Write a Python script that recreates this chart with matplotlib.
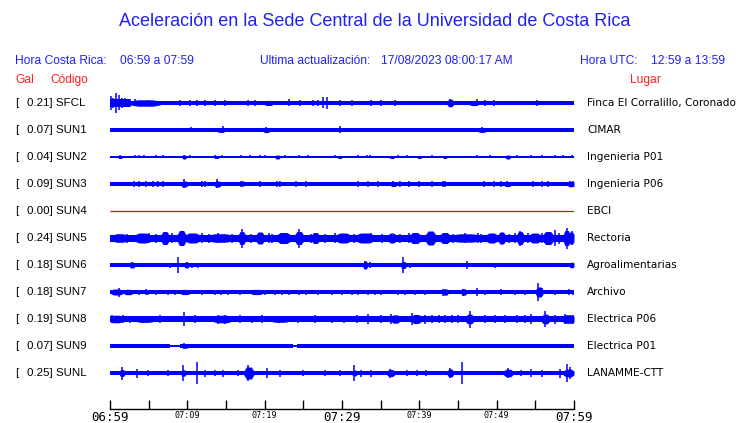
import matplotlib
matplotlib.use("Agg")
import matplotlib.pyplot as plt

# ---------------- data ----------------
STATIONS = ["SFCL", "SUN1", "SUN2", "SUN3", "SUN4", "SUN5", "SUN6", "SUN7", "SUN8", "SUN9", "SUNL"]
PEAK_GAL = ["0.21", "0.07", "0.04", "0.09", "0.00", "0.24", "0.18", "0.18", "0.19", "0.07", "0.25"]
PLACES = ["Finca El Corralillo, Coronado", "CIMAR", "Ingenieria P01", "Ingenieria P06", "EBCI",
          "Rectoria", "Agroalimentarias", "Archivo", "Electrica P06", "Electrica P01", "LANAMME-CTT"]
TICK_MIN = [0, 5, 10, 15, 20, 25, 30, 35, 40, 45, 50, 55, 60]
TICK_LABELS = ["06:59", "", "07:09", "", "07:19", "", "07:29", "", "07:39", "", "07:49", "", "07:59"]

# steady noise level segments (start min, end min, half amplitude)
SFCL_BAND = [(0, 60, 1.9), (0, 2.6, 4.2)]
SUN1_BAND = [(0, 60, 1.8)]
SUN2_BAND = [(0, 60, 0.6)]
SUN3_BAND = [(0, 60, 2.0)]
SUN4_BAND = []
SUN5_BAND = [(0, 60, 3.5)]
SUN6_BAND = [(0, 60, 1.8)]
SUN7_BAND = [(0, 60, 1.8)]
SUN8_BAND = [(0, 60, 2.8), (38.8, 60, 3.3)]
SUN9_BAND = [(0, 7.8, 1.6), (7.8, 9.0, 0.6), (9.0, 23.6, 1.6), (23.6, 24.2, 0.9), (24.2, 60, 1.6)]
SUNL_BAND = [(0, 60, 1.9)]

# wave trains (start min, end min, peak half amplitude)
SFCL_BURSTS = [(2.6, 6.5, 3.2), (43.6, 44.4, 3.8), (20.0, 21.0, 2.6), (46.5, 47.6, 2.6)]
SUN1_BURSTS = [(19.8, 20.6, 2.6), (13.9, 14.8, 2.4), (47.6, 48.6, 2.4)]
SUN2_BURSTS = [(1.0, 1.6, 1.5), (9.3, 9.9, 2.0), (13.4, 14.1, 1.5), (21.3, 22.0, 2.0), (29.4, 30.0, 1.5),
               (36.1, 36.8, 1.5), (39.7, 40.3, 1.5), (43.0, 43.6, 1.5), (51.1, 51.8, 2.0)]
SUN3_BURSTS = [(9.2, 10.0, 3.0), (13.5, 14.3, 3.0), (36.3, 37.0, 2.6), (51.0, 51.8, 2.6), (59.2, 60, 2.8)]
SUN4_BURSTS = []
SUN5_BURSTS = [(3.3, 5.1, 5.0), (6.6, 7.6, 6.5), (8.7, 9.8, 7.5), (9.8, 11.5, 5.0), (16.6, 17.5, 6.5),
               (18.9, 19.9, 6.0), (21.6, 23.3, 5.5), (23.9, 25.0, 6.5), (26.1, 27.0, 5.5), (29.3, 31.0, 5.0),
               (31.9, 34.0, 5.0), (36.0, 36.9, 5.0), (38.8, 40.1, 5.5), (40.8, 42.1, 7.0), (42.7, 43.9, 5.5),
               (48.7, 50.0, 5.0), (50.2, 51.1, 6.0), (52.6, 53.5, 6.5), (54.3, 55.6, 5.0), (56.0, 57.3, 6.5),
               (58.6, 59.5, 7.5), (59.3, 60, 6.0), (0.5, 2.0, 4.3), (13.0, 15.5, 4.3), (44.5, 47.5, 4.2)]
SUN6_BURSTS = [(2.5, 3.2, 3.0), (9.6, 10.2, 3.0), (32.7, 33.3, 4.0), (37.6, 38.3, 3.5), (59.4, 60, 2.8)]
SUN7_BURSTS = [(0.1, 1.6, 3.0), (1.8, 2.9, 2.7), (9.1, 10.3, 2.6), (18.2, 19.7, 2.6), (43.0, 43.7, 3.2),
               (45.4, 46.1, 3.2), (55.0, 56.0, 5.0)]
SUN8_BURSTS = [(0, 1.6, 3.8), (13.4, 15.6, 3.8), (36.4, 37.4, 4.2), (39.0, 40.2, 4.5), (46.0, 47.0, 4.8),
               (55.8, 56.8, 4.8), (58.5, 60, 4.3), (3.5, 5.5, 3.4), (21.0, 23.0, 3.3)]
SUN9_BURSTS = [(9.3, 10.1, 2.2)]
SUNL_BURSTS = [(17.3, 18.6, 6.0), (35.8, 36.8, 3.5), (43.6, 44.4, 4.0), (50.9, 52.1, 3.8), (58.6, 60, 3.8),
               (1.2, 1.9, 3.5), (9.2, 9.8, 3.2), (31.3, 31.9, 3.0)]

# isolated peaks (min, half amplitude)
SFCL_SPIKES = [(0.17, 7), (0.43, 5), (0.82, 10), (1.2, 7.5), (1.5, 5), (1.9, 4.5), (2.6, 4), (3.2, 3.5),
               (4.96, 2.8), (9.05, 2.8), (10.3, 2.8), (11.2, 2.8), (12.3, 2.8), (13.6, 2.8), (14.9, 2.8),
               (17.9, 2.8), (18.75, 2.8), (23.1, 3.5), (24.6, 2.8), (26.3, 2.8), (26.9, 2.8), (27.6, 5.5),
               (28.1, 6), (29.7, 2.8), (31.25, 2.8), (33.8, 2.8), (35.1, 2.8), (36.9, 2.8), (44.0, 4),
               (47.5, 3.5), (48.5, 2.8), (49.6, 2.8), (55.2, 2.8)]
SUN1_SPIKES = [(7.6, 2.3), (10.5, 2.5), (14.6, 3.5), (20.2, 2.5), (29.8, 3.5), (48.1, 2.5), (56.3, 2.3)]
SUN2_SPIKES = [(0.43, 1), (1.3, 1.5), (3.2, 1.5), (3.7, 1.5), (4.4, 1.5), (6.0, 1.5), (6.9, 1.5), (9.6, 2),
               (10.3, 1.5), (13.6, 1.5), (14.5, 1.5), (17.0, 1.5), (18.1, 1.5), (19.4, 1.5), (20.0, 1.5),
               (22.6, 1.5), (24.4, 1.5), (25.6, 1.5), (29.1, 1.5), (32.1, 1.5), (33.2, 1.5), (33.6, 1.5),
               (37.3, 1.5), (38.4, 1.5), (41.6, 1.5), (47.4, 1.5), (49.1, 1.5), (52.6, 1.5), (54.5, 1.5),
               (55.8, 1.5), (57.5, 1.5), (58.6, 1.5), (59.7, 1.5)]
SUN3_SPIKES = [(1.1, 2.3), (3.1, 2.6), (3.7, 2.6), (4.7, 2.6), (5.6, 2.6), (6.25, 2.6), (6.9, 2.6), (9.6, 4.5),
               (11.9, 2.6), (12.3, 2.6), (13.9, 4.5), (17.0, 2.6), (17.2, 2.6), (19.4, 2.6), (21.6, 2.6),
               (22.0, 2.6), (24.1, 2.6), (25.4, 2.6), (30.4, 2.3), (32.1, 2.6), (33.4, 2.6), (34.7, 2.6),
               (36.6, 2.6), (37.5, 2.6), (38.7, 2.6), (39.9, 2.6), (41.6, 2.6), (43.1, 2.6), (43.3, 2.6),
               (48.3, 2.6), (49.6, 2.6), (50.6, 2.6), (51.4, 2.6), (54.7, 2.6), (55.8, 2.6), (56.7, 2.6),
               (59.5, 3), (59.9, 2.6)]
SUN4_SPIKES = []
SUN5_SPIKES = [(5.0, 5), (11.85, 5), (14.0, 5), (17.1, 9.5), (20.5, 5), (24.5, 9.5), (29.1, 5), (33.8, 5),
               (38.6, 5), (45.9, 5), (47.6, 5), (52.4, 5), (53.0, 7.5), (54.1, 5), (57.5, 8), (59.05, 10.5),
               (2.2, 4.5), (6.0, 4.5), (8.0, 5), (12.8, 4.5), (15.8, 4.5), (18.2, 4.5), (20.9, 4.5),
               (26.0, 4.5), (27.8, 4.5), (31.5, 4.5), (35.2, 4.5), (37.5, 4.5), (44.3, 4.5), (48.0, 4.5),
               (51.6, 4.5), (55.8, 5), (58.0, 5.5), (59.8, 7)]
SUN6_SPIKES = [(0.65, 2.2), (1.3, 2.2), (2.8, 3), (4.3, 2.2), (5.6, 2.2), (6.5, 2.2), (7.1, 2.2), (7.8, 2.5),
               (8.75, 8.3), (9.9, 3), (10.6, 2.5), (11.4, 2.5), (11.85, 2.2), (14.9, 2.2), (16.6, 2.2),
               (17.2, 2.2), (17.9, 2.2), (19.0, 2.2), (20.0, 2.2), (25.2, 2.2), (26.7, 2.2), (29.3, 2.2),
               (30.2, 2.2), (30.8, 2.2), (31.5, 2.2), (32.1, 2.2), (33.0, 4), (33.6, 3), (37.1, 2.2),
               (37.9, 8), (38.8, 2.5), (39.9, 2.2), (41.6, 2.2), (42.5, 2.2), (43.3, 2.2), (44.2, 2.2),
               (45.0, 2.2), (45.5, 2.2), (46.1, 4), (46.8, 2.2), (47.4, 2.2), (48.7, 2.2), (49.8, 2.5),
               (50.9, 2.2), (52.8, 2.2), (53.4, 2.2), (55.4, 2.2), (57.1, 2.2), (58.0, 2.2), (58.6, 2.2),
               (59.7, 2.5)]
SUN7_SPIKES = [(1.1, 4.5), (3.7, 2.5), (4.7, 3), (4.96, 2.5), (6.0, 2.5), (7.5, 2.5), (8.4, 2.5),
               (11.85, 2.5), (13.6, 2.5), (14.4, 2.5), (15.3, 2.5), (16.8, 2.5), (20.0, 2.5), (21.3, 2.5),
               (22.2, 2.5), (23.1, 2.5), (24.4, 2.5), (25.4, 2.5), (26.9, 2.5), (28.7, 2.5), (30.0, 2.5),
               (31.25, 2.5), (32.1, 2.5), (33.4, 2.5), (34.3, 2.5), (35.1, 2.5), (37.3, 2.5), (38.1, 2.5),
               (39.4, 2.5), (40.7, 2.5), (43.1, 3.5), (45.7, 3.5), (47.4, 4), (48.5, 2.5), (50.6, 3),
               (52.4, 2.5), (53.7, 2.5), (55.4, 9), (55.8, 4), (57.5, 2.5), (59.3, 3), (59.9, 2.5)]
SUN8_SPIKES = [(0.2, 4), (1.7, 4), (2.6, 3.5), (4.1, 3.5), (9.6, 6.7), (14.0, 4.5), (14.9, 4.5), (16.8, 4),
               (18.3, 3.5), (21.8, 3.5), (24.35, 3.5), (28.7, 3.5), (30.2, 3.5), (33.4, 5), (36.4, 5),
               (39.0, 6), (40.7, 4.5), (42.5, 4), (44.2, 4), (46.5, 8.5), (48.5, 4), (51.1, 4), (54.5, 5),
               (56.25, 8), (58.8, 5), (59.9, 4.5), (6.5, 3.8), (11.0, 3.8), (19.6, 3.8), (26.5, 3.6),
               (32.0, 3.8), (35.0, 3.8), (41.6, 4.3), (43.3, 4.3), (45.0, 4.3), (49.8, 4.3), (52.6, 4.3),
               (53.6, 4.3), (57.5, 4.5)]
SUN9_SPIKES = [(3.2, 2.2), (9.6, 3), (10.0, 2.2), (23.5, 2.2)]
SUNL_SPIKES = [(1.5, 6.5), (3.45, 4.5), (4.96, 3), (7.5, 2.8), (9.5, 8), (11.2, 11), (12.3, 3.5), (13.6, 3),
               (14.65, 3.5), (16.6, 3), (17.9, 8), (20.3, 5), (22.0, 3.5), (24.9, 2.8), (27.8, 3), (29.7, 3),
               (31.6, 8), (32.5, 3.5), (33.8, 3.5), (36.2, 4.5), (38.4, 2.8), (39.7, 2.8), (40.9, 2.8),
               (44.0, 5), (45.5, 11), (51.5, 5), (53.2, 3), (54.5, 4), (55.8, 3.5), (58.2, 4.5), (59.05, 9),
               (59.5, 6)]

BANDS = [SFCL_BAND, SUN1_BAND, SUN2_BAND, SUN3_BAND, SUN4_BAND, SUN5_BAND, SUN6_BAND, SUN7_BAND,
         SUN8_BAND, SUN9_BAND, SUNL_BAND]
BURSTS = [SFCL_BURSTS, SUN1_BURSTS, SUN2_BURSTS, SUN3_BURSTS, SUN4_BURSTS, SUN5_BURSTS, SUN6_BURSTS,
          SUN7_BURSTS, SUN8_BURSTS, SUN9_BURSTS, SUNL_BURSTS]
SPIKES = [SFCL_SPIKES, SUN1_SPIKES, SUN2_SPIKES, SUN3_SPIKES, SUN4_SPIKES, SUN5_SPIKES, SUN6_SPIKES,
          SUN7_SPIKES, SUN8_SPIKES, SUN9_SPIKES, SUNL_SPIKES]

# ---------------- layout ----------------
W, H = 740, 423
fig = plt.figure(figsize=(W / 100, H / 100), dpi=100)
fig.patch.set_facecolor("white")

BLUE_TXT = "#2020f0"
RED_TXT = "#ff2020"
TRACE = "#0000ff"
SANS = ["Liberation Sans", "DejaVu Sans"]


def px(x, y):
    return x / W, 1 - y / H


def pt(pixels):
    return pixels * 0.72


X0, X1 = 110, 574
Y_TOP, Y_BOT = 88, 392
FIRST, STEP = 103, 27

ax = fig.add_axes([X0 / W, 1 - Y_BOT / H, (X1 - X0) / W, (Y_BOT - Y_TOP) / H])
ax.set_xlim(0, 60)
ax.set_ylim(Y_BOT, Y_TOP)
ax.axis("off")

for i, name in enumerate(STATIONS):
    c = FIRST + STEP * i
    if name == "SUN4":
        ax.plot([0, 60], [c, c], color="#d01010", lw=0.9, solid_capstyle="butt")
    base = BANDS[i][0][2] if BANDS[i] else 0
    for m0, m1, a in BANDS[i]:
        ax.fill_between([m0, m1], [c - a, c - a], [c + a, c + a], color=TRACE, lw=0)
    for m0, m1, a in BURSTS[i]:
        q = (m1 - m0) / 4
        xs = [m0, m0 + q, m1 - q, m1]
        amp = [base, a, a, base]
        ax.fill_between(xs, [c - v for v in amp], [c + v for v in amp], color=TRACE, lw=0)
    if SPIKES[i]:
        ms = [s[0] for s in SPIKES[i]]
        ax.vlines(ms, [c - s[1] for s in SPIKES[i]], [c + s[1] for s in SPIKES[i]],
                  color=TRACE, lw=1.1)
    # labels
    fig.text(*px(15, c), "[", ha="left", va="center", family=SANS, fontsize=pt(11.5), color="black")
    fig.text(*px(27, c), f"{PEAK_GAL[i]}] {name}", ha="left", va="center", family=SANS,
             fontsize=pt(11.5), color="black")
    fig.text(*px(587, c), PLACES[i], ha="left", va="center", family="DejaVu Sans",
             fontsize=pt(10.45), color="black")

# time axis
ax2 = fig.add_axes([X0 / W, 1 - 409.3 / H, (X1 - X0) / W, 9.3 / H])
ax2.set_xlim(0, 60)
ax2.set_ylim(0, 1)
for s in ["top", "left", "right"]:
    ax2.spines[s].set_visible(False)
ax2.spines["bottom"].set_linewidth(1.0)
ax2.set_yticks([])
ax2.set_xticks(TICK_MIN)
ax2.set_xticklabels(TICK_LABELS)
ax2.tick_params(axis="x", direction="in", length=pt(9.3), width=1.0, pad=1.5)
for lab, txt in zip(ax2.get_xticklabels(), TICK_LABELS):
    lab.set_family("DejaVu Sans Mono")
    lab.set_fontsize(pt(12.5) if txt in ("06:59", "07:29", "07:59") else pt(8.5))
ax2.patch.set_alpha(0)

# header texts
fig.text(*px(375, 22), "Aceleración en la Sede Central de la Universidad de Costa Rica",
         ha="center", va="center", family=SANS, fontsize=pt(18.0), color=BLUE_TXT)
fig.text(*px(15, 61), "Hora Costa Rica:", ha="left", va="center", family=SANS, fontsize=pt(12), color=BLUE_TXT)
fig.text(*px(120, 61), "06:59 a 07:59", ha="left", va="center", family=SANS, fontsize=pt(12), color=BLUE_TXT)
fig.text(*px(260, 61), "Ultima actualización:", ha="left", va="center", family=SANS, fontsize=pt(12), color=BLUE_TXT)
fig.text(*px(381, 61), "17/08/2023 08:00:17 AM", ha="left", va="center", family=SANS, fontsize=pt(12), color=BLUE_TXT)
fig.text(*px(580, 61), "Hora UTC:", ha="left", va="center", family=SANS, fontsize=pt(12), color=BLUE_TXT)
fig.text(*px(651, 61), "12:59 a 13:59", ha="left", va="center", family=SANS, fontsize=pt(12), color=BLUE_TXT)
fig.text(*px(15, 80), "Gal", ha="left", va="center", family=SANS, fontsize=pt(12), color=RED_TXT)
fig.text(*px(50, 80), "Código", ha="left", va="center", family=SANS, fontsize=pt(12), color=RED_TXT)
fig.text(*px(630, 80), "Lugar", ha="left", va="center", family=SANS, fontsize=pt(12), color=RED_TXT)

fig.savefig("out.png", dpi=100)
